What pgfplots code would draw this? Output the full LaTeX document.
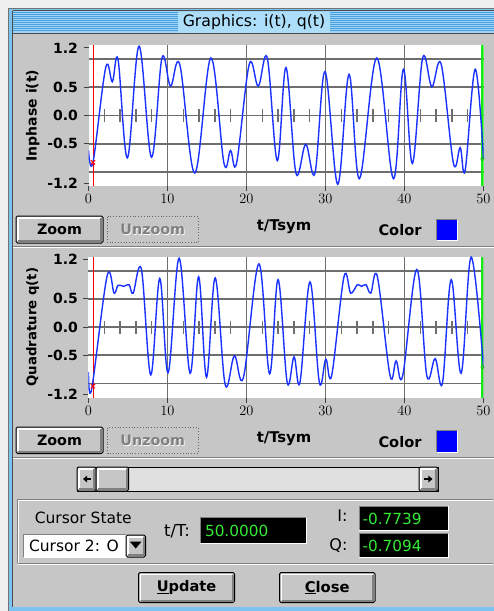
\documentclass[border=0pt]{standalone}
\usepackage{fontspec}
\setmainfont{DejaVu Sans}
\usepackage{pgfplots}
\pgfplotsset{compat=1.18}

\definecolor{winbg}{RGB}{198,198,198}
\definecolor{frameblue}{RGB}{125,195,240}
\definecolor{titleblue}{RGB}{160,212,245}
\definecolor{titlestripe}{RGB}{70,160,222}
\definecolor{titlebox}{RGB}{172,222,250}
\definecolor{gridgray}{RGB}{110,110,110}
\definecolor{sigblue}{RGB}{25,50,255}
\definecolor{curgreen}{RGB}{20,235,20}
\definecolor{lcdgreen}{RGB}{50,235,50}
\definecolor{shadow}{RGB}{128,128,128}
\definecolor{track}{RGB}{224,224,224}

\newcommand{\fs}[1]{\fontsize{#1}{#1}\selectfont}

% push button, corners in pixels (y downwards)
\newcommand{\btn}[5]{%
  \draw[black, line width=1pt, fill=winbg, rounded corners=1.5pt] (#1,#2) rectangle (#3,#4);
  \draw[white, line width=1.5pt] (#1+1.8,#4-2.5) -- (#1+1.8,#2+1.8) -- (#3-2.5,#2+1.8);
  \draw[shadow, line width=2pt] (#1+2.2,#4-2) -- (#3-2,#4-2) -- (#3-2,#2+2.2);
  \node at ({(#1+#3)/2},{(#2+#4)/2}) {#5};}
% sunken field
\newcommand{\sunk}[5]{%
  \fill[#5] (#1,#2) rectangle (#3,#4);
  \draw[shadow, line width=1pt] (#1-0.5,#4) -- (#1-0.5,#2-0.5) -- (#3,#2-0.5);
  \draw[white, line width=1pt] (#1-0.5,#4+0.5) -- (#3+0.5,#4+0.5) -- (#3+0.5,#2-0.5);}

\pgfplotsset{
  guiplot/.style={
    scale only axis, width=395pt, height=141pt,
    anchor=north west,
    xmin=0, xmax=50, ymin=-1.25, ymax=1.25,
    axis background/.style={fill=white},
    axis line style={draw=none},
    xtick={0,10,20,30,40,50},
    ytick={-1.2,-0.5,0,0.5,1.2},
    yticklabels={-1.2,-0.5,0.0,0.5,1.2},
    xtick pos=lower, ytick pos=left,
    tick align=outside,
    major tick length=5pt,
    tick style={black!75, line width=0.8pt},
    ticklabel style={font=\bfseries\fs{14}},
    yticklabel style={xshift=-2pt},
    extra x ticks={10,20,30,40}, extra x tick labels={},
    extra y ticks={-1,-0.5,0,0.5,1}, extra y tick labels={},
    extra tick style={grid=major, major tick length=0pt},
    major grid style={gridgray, line width=1.8pt},
    xlabel={t/Tsym},
    xlabel style={font=\bfseries\fs{14.8}, at={(axis description cs:0.495,-0.29)}, anchor=center},
    ylabel style={at={(axis description cs:-0.141,0.5)}, anchor=center},
  },
  symticks/.style={only marks, mark=|, mark size=6.5pt, gridgray, mark options={line width=1.3pt}},
}

\begin{document}
\begin{tikzpicture}
\path[use as bounding box] (0pt,0pt) rectangle (494pt,-611pt);
\begin{scope}[x=1pt,y=-1pt]
  \fill[black!6] (0,0) rectangle (494,611);
  % window frame
  \fill[frameblue] (8,8) rectangle (494,611);
  \draw[black!55, line width=1pt] (8.5,611) -- (8.5,8.5) -- (494,8.5);
  \draw[black!70, line width=0.8pt] (12.6,607) -- (12.6,11);
  % title bar
  \fill[titleblue] (13,11) rectangle (494,33);
  \foreach \yy in {12.5,14.5,...,32} \draw[titlestripe, line width=0.8pt] (13,\yy) -- (494,\yy);
  \draw[black!70, line width=1pt] (12.5,10.8) -- (494,10.8);
  \draw[black!70, line width=1pt] (12.5,33.3) -- (494,33.3);
  \fill[titlebox] (178,12) rectangle (330,32.6);
  \node[font=\fs{15.7}] at (254,22.5) {Graphics: i(t), q(t)};
  % client area
  \fill[winbg] (13,34) rectangle (494,607);
  % separators
  \draw[shadow, line width=1pt] (13,246) -- (494,246);
  \draw[white, line width=1pt] (13,247.2) -- (494,247.2);
  \draw[shadow, line width=1pt] (13,457) -- (494,457);
  \draw[white, line width=1pt] (13,458.2) -- (494,458.2);
  % row under plot 1
  \btn{16}{216}{103}{243}{\bfseries\fs{14.3}Zoom}
  \draw[black!60, line width=0.8pt, dotted] (107.5,216.5) rectangle (198,242.5);
  \node[font=\bfseries\fs{14.3}, white] at (153.5,230.5) {Unzoom};
  \node[font=\bfseries\fs{14.3}, shadow] at (152.8,229.8) {Unzoom};
  \node[font=\bfseries\fs{14.6}] at (400,230) {Color};
  \sunk{437}{220}{457}{240}{blue}
  % row under plot 2
  \btn{16}{427}{103}{453.5}{\bfseries\fs{14.3}Zoom}
  \draw[black!60, line width=0.8pt, dotted] (107.5,427.5) rectangle (198,453);
  \node[font=\bfseries\fs{14.3}, white] at (153.5,441.5) {Unzoom};
  \node[font=\bfseries\fs{14.3}, shadow] at (152.8,440.8) {Unzoom};
  \node[font=\bfseries\fs{14.6}] at (400,442.5) {Color};
  \sunk{437}{431}{457}{452}{blue}
  % scroll bar
  \fill[track] (77,467) rectangle (438,491);
  \draw[black, line width=1pt] (77,467) rectangle (438,491);
  \btn{77}{467}{96}{491}{}
  \btn{419}{467}{438}{491}{}
  \btn{96}{467}{128.5}{491}{}
  \fill[black] (83,479) -- (87.2,475.5) -- (87.2,482.5) -- cycle;
  \draw[black, line width=1.6pt] (86,479) -- (91,479);
  \fill[black] (432.5,479) -- (428.3,475.5) -- (428.3,482.5) -- cycle;
  \draw[black, line width=1.6pt] (424,479) -- (429.5,479);
  % cursor group box
  \draw[shadow, line width=1pt] (17.5,563) -- (17.5,499.5) -- (493,499.5);
  \draw[white, line width=1pt] (18.5,563) -- (18.5,500.5) -- (493,500.5);
  \draw[shadow, line width=1pt] (17.5,563) -- (493,563);
  \draw[white, line width=1pt] (17.5,564.2) -- (493,564.2);
  \node[font=\fs{15.5}] at (83.3,518) {Cursor State};
  \sunk{24}{535}{126}{557}{white}
  \node[font=\fs{15.5}, anchor=west] at (25.5,545.5) {Cursor 2: O};
  \btn{126}{535}{145.5}{557}{}
  \fill[black] (129.8,541.5) -- (141.6,541.5) -- (135.7,548.5) -- cycle;
  \node[font=\fs{16.5}, anchor=east] at (193.5,531) {t/T:};
  \sunk{200.5}{518}{306}{543}{black}
  \node[font=\fs{15.3}, text=lcdgreen, anchor=west] at (201.5,531) {50.0000};
  \node[font=\fs{16}, anchor=east] at (351,516) {I:};
  \node[font=\fs{16}, anchor=east] at (351,545.5) {Q:};
  \sunk{359.5}{506.5}{447.5}{530}{black}
  \node[font=\fs{15.3}, text=lcdgreen, anchor=west] at (359,518.5) {-0.7739};
  \sunk{359.5}{534}{447.5}{557}{black}
  \node[font=\fs{15.3}, text=lcdgreen, anchor=west] at (359,546) {-0.7094};
  % buttons
  \btn{138.5}{572.5}{234.5}{602.5}{\bfseries\fs{14.6}\underline{U}pdate}
  \btn{279.5}{572.5}{375}{602.5}{\bfseries\fs{14.8}\underline{C}lose}
\end{scope}

% Inphase
\begin{axis}[guiplot, at={(88.5pt,-45pt)},
  ylabel={Inphase i(t)}, ylabel style={font=\bfseries\fs{14}}]
\addplot[symticks] coordinates {(2,0)(4,0)(6,0)(8,0)(12,0)(14,0)(16,0)(18,0)(22,0)(24,0)
  (26,0)(28,0)(32,0)(34,0)(36,0)(38,0)(42,0)(44,0)(46,0)(48,0)};
\addplot[red, line width=1pt] coordinates {(0.57,-1.25) (0.57,1.25)};
\addplot[curgreen, line width=2.3pt] coordinates {(49.86,-1.25) (49.86,1.25)};
\addplot[sigblue, line width=1.4pt, smooth, tension=0.6] coordinates {
  (0,-0.62) (0.57,-0.83) (2.18,0.85) (3.02,0.60) (3.74,0.99) (4.93,-0.75)
  (6.4,1.23) (7.97,-0.74) (9.3,1.02) (10.38,0.52) (11.56,0.90) (13.46,-1.02)
  (15.49,1.02) (17.14,-0.84) (17.98,-0.62) (18.75,-0.84) (20.35,0.91) (21.49,0.52)
  (22.63,1.02) (23.9,-0.80) (25.0,0.85) (26.26,-1.02) (27.5,-0.51) (28.67,-1.02)
  (29.94,0.78) (31.55,-1.22) (32.98,0.73) (34.3,-1.12) (36.49,1.02) (38.6,-1.12)
  (39.86,0.82) (41.0,-0.85) (42.3,1.02) (43.46,0.51) (44.64,0.91) (46.2,-0.85)
  (47.05,-0.57) (47.68,-0.97) (48.95,0.82) (50,-0.77)};
\addplot[red, only marks, mark=x, mark size=3pt, mark options={line width=1pt}] coordinates {(0.57,-0.83)};
\addplot[curgreen!70!black, only marks, mark=o, mark size=1.8pt] coordinates {(49.86,-0.77)};
\end{axis}

% Quadrature
\begin{axis}[guiplot, at={(88.5pt,-256.5pt)},
  ylabel={Quadrature q(t)}, ylabel style={font=\bfseries\fs{13.3}}]
\addplot[symticks] coordinates {(2,0)(4,0)(6,0)(8,0)(12,0)(14,0)(16,0)(18,0)(22,0)(24,0)
  (26,0)(28,0)(32,0)(34,0)(36,0)(38,0)(42,0)(44,0)(46,0)(48,0)};
\addplot[red, line width=1pt] coordinates {(0.57,-1.25) (0.57,1.25)};
\addplot[curgreen, line width=2.3pt] coordinates {(49.86,-1.25) (49.86,1.25)};
\addplot[sigblue, line width=1.4pt, smooth, tension=0.6] coordinates {
  (0,-0.80) (0.4,-1.10) (2.35,0.90) (3.24,0.60) (3.74,0.74) (4.46,0.72) (5.14,0.75)
  (5.65,0.60) (6.7,1.02) (7.88,-0.85) (9.02,0.86) (10.08,-0.81) (11.47,1.22)
  (12.86,-0.82) (13.94,0.89) (14.94,-0.89) (16.04,0.87) (17.3,-1.02) (18.47,-0.51)
  (19.62,-0.89) (21.57,1.12) (22.92,-0.83) (24.0,0.84) (25.15,-0.98) (26.02,-0.53)
  (26.77,-0.98) (28.04,0.80) (29.22,-0.98) (30.04,-0.57) (30.78,-0.86) (32.34,0.89)
  (33.19,0.60) (34.03,0.75) (34.58,0.72) (35.13,0.75) (35.73,0.60) (36.57,0.89)
  (38.17,-0.86) (38.94,-0.60) (39.78,-0.86) (41.56,1.02) (42.82,-0.86) (43.88,-0.56)
  (44.81,-0.99) (45.91,0.84) (47.17,-0.82) (48.44,1.24) (50,-0.71)};
\addplot[red, only marks, mark=x, mark size=3pt, mark options={line width=1pt}] coordinates {(0.57,-1.05)};
\addplot[curgreen!70!black, only marks, mark=o, mark size=1.8pt] coordinates {(49.86,-0.71)};
\end{axis}
\end{tikzpicture}
\end{document}
